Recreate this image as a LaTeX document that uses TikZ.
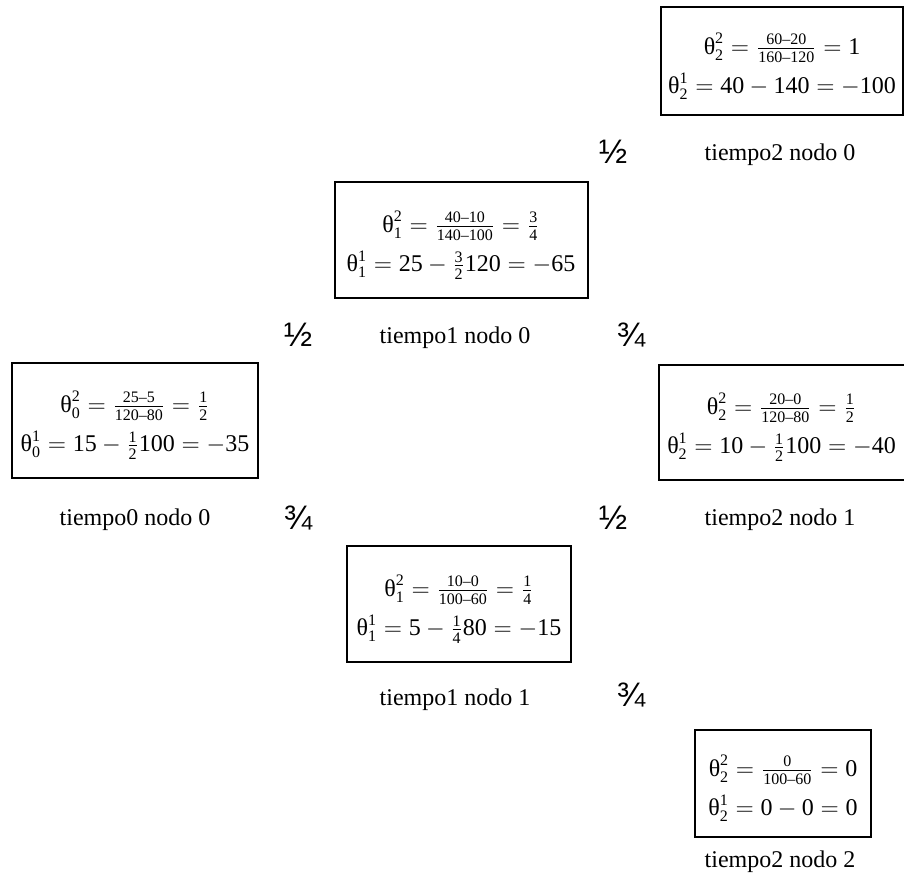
\documentclass[tikz,border=0pt]{standalone}
\usepackage{amsmath}
\usepackage{fontspec}
\setmainfont{Liberation Serif}
\newfontfamily\fracfont{Liberation Sans}
\newcommand{\thet}[2]{\mbox{θ}^{\tx{#1}}_{\tx{#2}}}
\newcommand{\tx}[1]{\text{#1}}
\newcommand{\fr}[2]{\frac{\tx{#1}}{\tx{#2}}}
\newcommand{\topstrut}{\rule{0pt}{16pt}}
\begin{document}
\begin{tikzpicture}[x=0.5pt,y=-0.5pt,
  statebox/.style={draw,line width=1pt,align=center,inner sep=0pt,font=\fontsize{12}{14}\selectfont},
  steplabel/.style={font=\fontsize{12}{14}\selectfont},
  probfrac/.style={font=\fracfont\fontsize{17}{20}\selectfont}]
\useasboundingbox (0,0) rectangle (904,883);
\node[statebox,minimum width=121pt,minimum height=54pt] (a) at (782,61)
  {\topstrut$\thet{2}{2} = \fr{60–20}{160–120} = \tx{1}$\\[4pt]$\thet{1}{2} = \tx{40} - \tx{140} = -\tx{100}$};
\node[steplabel] (la) at (780,155) {tiempo2 nodo 0};
\node[probfrac] (pa) at (613,152) {½};
\node[statebox,minimum width=126.5pt,minimum height=58pt] (b) at (461,240)
  {\topstrut$\thet{2}{1} = \fr{40–10}{140–100} = \fr{3}{4}$\\[4pt]$\thet{1}{1} = \tx{25} - \fr{3}{2}\tx{120} = -\tx{65}$};
\node[steplabel] (lb) at (455,338) {tiempo1 nodo 0};
\node[probfrac] (pb) at (298,335) {½};
\node[probfrac] (pc) at (631,335) {¾};
\node[statebox,minimum width=123pt,minimum height=57.5pt] (c) at (135,420)
  {\topstrut$\thet{2}{0} = \fr{25–5}{120–80} = \fr{1}{2}$\\[4pt]$\thet{1}{0} = \tx{15} - \fr{1}{2}\tx{100} = -\tx{35}$};
\node[steplabel] (lc) at (135,520) {tiempo0 nodo 0};
\node[probfrac] (pd) at (298,518) {¾};
\node[statebox,minimum width=123pt,minimum height=57.5pt] (d) at (781.5,422)
  {\topstrut$\thet{2}{2} = \fr{20–0}{120–80} = \fr{1}{2}$\\[4pt]$\thet{1}{2} = \tx{10} - \fr{1}{2}\tx{100} = -\tx{40}$};
\node[steplabel] (ld) at (780,520) {tiempo2 nodo 1};
\node[probfrac] (pe) at (613,518) {½};
\node[statebox,minimum width=112pt,minimum height=58pt] (e) at (459,604)
  {\topstrut$\thet{2}{1} = \fr{10–0}{100–60} = \fr{1}{4}$\\[4pt]$\thet{1}{1} = \tx{5} - \fr{1}{4}\tx{80} = -\tx{15}$};
\node[steplabel] (le) at (455,700) {tiempo1 nodo 1};
\node[probfrac] (pf) at (631,695) {¾};
\node[statebox,minimum width=88pt,minimum height=53.5pt] (f) at (783,783)
  {\topstrut$\thet{2}{2} = \fr{0}{100–60} = \tx{0}$\\[4pt]$\thet{1}{2} = \tx{0} - \tx{0} = \tx{0}$};
\node[steplabel] (lf) at (780,862) {tiempo2 nodo 2};
\end{tikzpicture}
\end{document}
